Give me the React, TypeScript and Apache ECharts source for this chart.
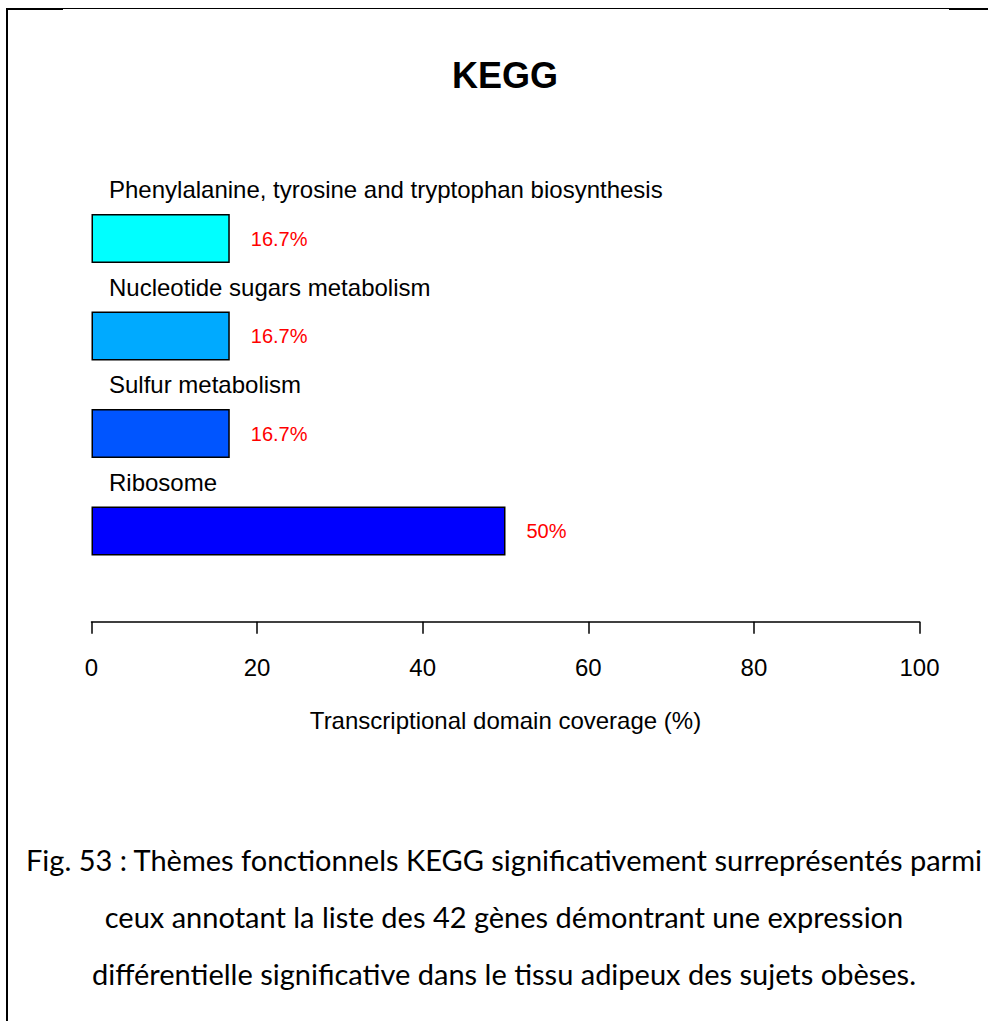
import React, { useEffect, useRef } from "react";
import * as echarts from "echarts";

// ---- data ----
const categories: string[] = [
  "Phenylalanine, tyrosine and tryptophan biosynthesis",
  "Nucleotide sugars metabolism",
  "Sulfur metabolism",
  "Ribosome",
];
const coverage: number[] = [16.7, 16.7, 16.7, 50];
const valueLabels: string[] = ["16.7%", "16.7%", "16.7%", "50%"];
const barColors: string[] = ["#00FFFF", "#00AAFF", "#0055FF", "#0000FF"];
const xMin = 0;
const xMax = 100;
const xInterval = 20;
const chartTitle = "KEGG";
const xAxisTitle = "Transcriptional domain coverage (%)";
const captionLines: string[] = [
  "Fig. 53 : Thèmes fonctionnels KEGG significativement surreprésentés parmi",
  "ceux annotant la liste des 42 gènes démontrant une expression",
  "différentielle significative dans le tissu adipeux des sujets obèses.",
];

const SANS = "'Liberation Sans', Arial, Helvetica, sans-serif";
const CAPTION_FONT = "Lato, 'Noto Sans', sans-serif";

export default function App() {
  const ref = useRef<HTMLDivElement>(null);

  useEffect(() => {
    if (!ref.current) return;
    const chart = echarts.init(ref.current, null, { renderer: "svg" });

    const gridLeft = 91.5;
    const gridRight = 988 - 919.5;
    const gridTop = 189.75;
    const gridHeight = 390;

    const captionY = [859, 916, 973];

    chart.setOption({
      animation: false,
      backgroundColor: "#ffffff",
      title: {
        text: chartTitle,
        left: 505,
        textAlign: "center",
        top: 57,
        padding: 0,
        textStyle: {
          fontFamily: SANS,
          fontSize: 36,
          fontWeight: "bold",
          color: "#000000",
        },
      },
      grid: {
        left: gridLeft,
        right: gridRight,
        top: gridTop,
        height: gridHeight,
        containLabel: false,
      },
      xAxis: {
        type: "value",
        min: xMin,
        max: xMax,
        interval: xInterval,
        offset: 42,
        name: xAxisTitle,
        nameLocation: "middle",
        nameGap: 87,
        nameTextStyle: {
          fontFamily: SANS,
          fontSize: 24,
          color: "#000000",
          verticalAlign: "top",
        },
        splitLine: { show: false },
        axisLine: { show: true, lineStyle: { color: "#000000", width: 1.5 } },
        axisTick: { show: true, length: 12, lineStyle: { color: "#000000", width: 1.5 } },
        axisLabel: {
          margin: 34,
          fontFamily: SANS,
          fontSize: 24,
          color: "#000000",
          verticalAlign: "top",
        },
      },
      yAxis: {
        type: "category",
        data: categories,
        inverse: true,
        show: false,
      },
      series: [
        {
          name: "coverage",
          type: "bar",
          data: coverage.map((v, i) => ({
            value: v,
            itemStyle: { color: barColors[i] },
          })),
          barWidth: 49,
          barGap: "-100%",
          itemStyle: { borderColor: "#000000", borderWidth: 1.5 },
          label: {
            show: true,
            position: "right",
            distance: 21,
            formatter: (p: any) => valueLabels[p.dataIndex],
            fontFamily: SANS,
            fontSize: 20,
            color: "#FF0000",
          },
          silent: true,
        },
        {
          name: "category names",
          type: "bar",
          data: coverage,
          barWidth: 49,
          barGap: "-100%",
          itemStyle: { color: "rgba(0,0,0,0)", borderWidth: 0 },
          label: {
            show: true,
            position: [17.5, -24.5],
            verticalAlign: "middle",
            align: "left",
            formatter: "{b}",
            fontFamily: SANS,
            fontSize: 24,
            color: "#000000",
          },
          silent: true,
        },
      ],
      graphic: [
        { type: "rect", shape: { x: 6, y: 8, width: 982, height: 1 }, style: { fill: "#000" } },
        { type: "rect", shape: { x: 6, y: 8, width: 57, height: 2 }, style: { fill: "#000" } },
        { type: "rect", shape: { x: 949, y: 8, width: 39, height: 2 }, style: { fill: "#000" } },
        { type: "rect", shape: { x: 6, y: 8, width: 2, height: 1013 }, style: { fill: "#000" } },
        ...captionLines.map((t, i) => ({
          type: "text",
          x: 504,
          y: captionY[i],
          style: {
            text: t,
            font: `29px ${CAPTION_FONT}`,
            fill: "#000000",
            textAlign: "center",
            textVerticalAlign: "middle",
            align: "center",
            verticalAlign: "middle",
          },
        })),
      ],
    });

    return () => chart.dispose();
  }, []);

  return (
    <div
      ref={ref}
      style={{ position: "absolute", left: 0, top: 0, width: 988, height: 1021, background: "#fff" }}
    />
  );
}
